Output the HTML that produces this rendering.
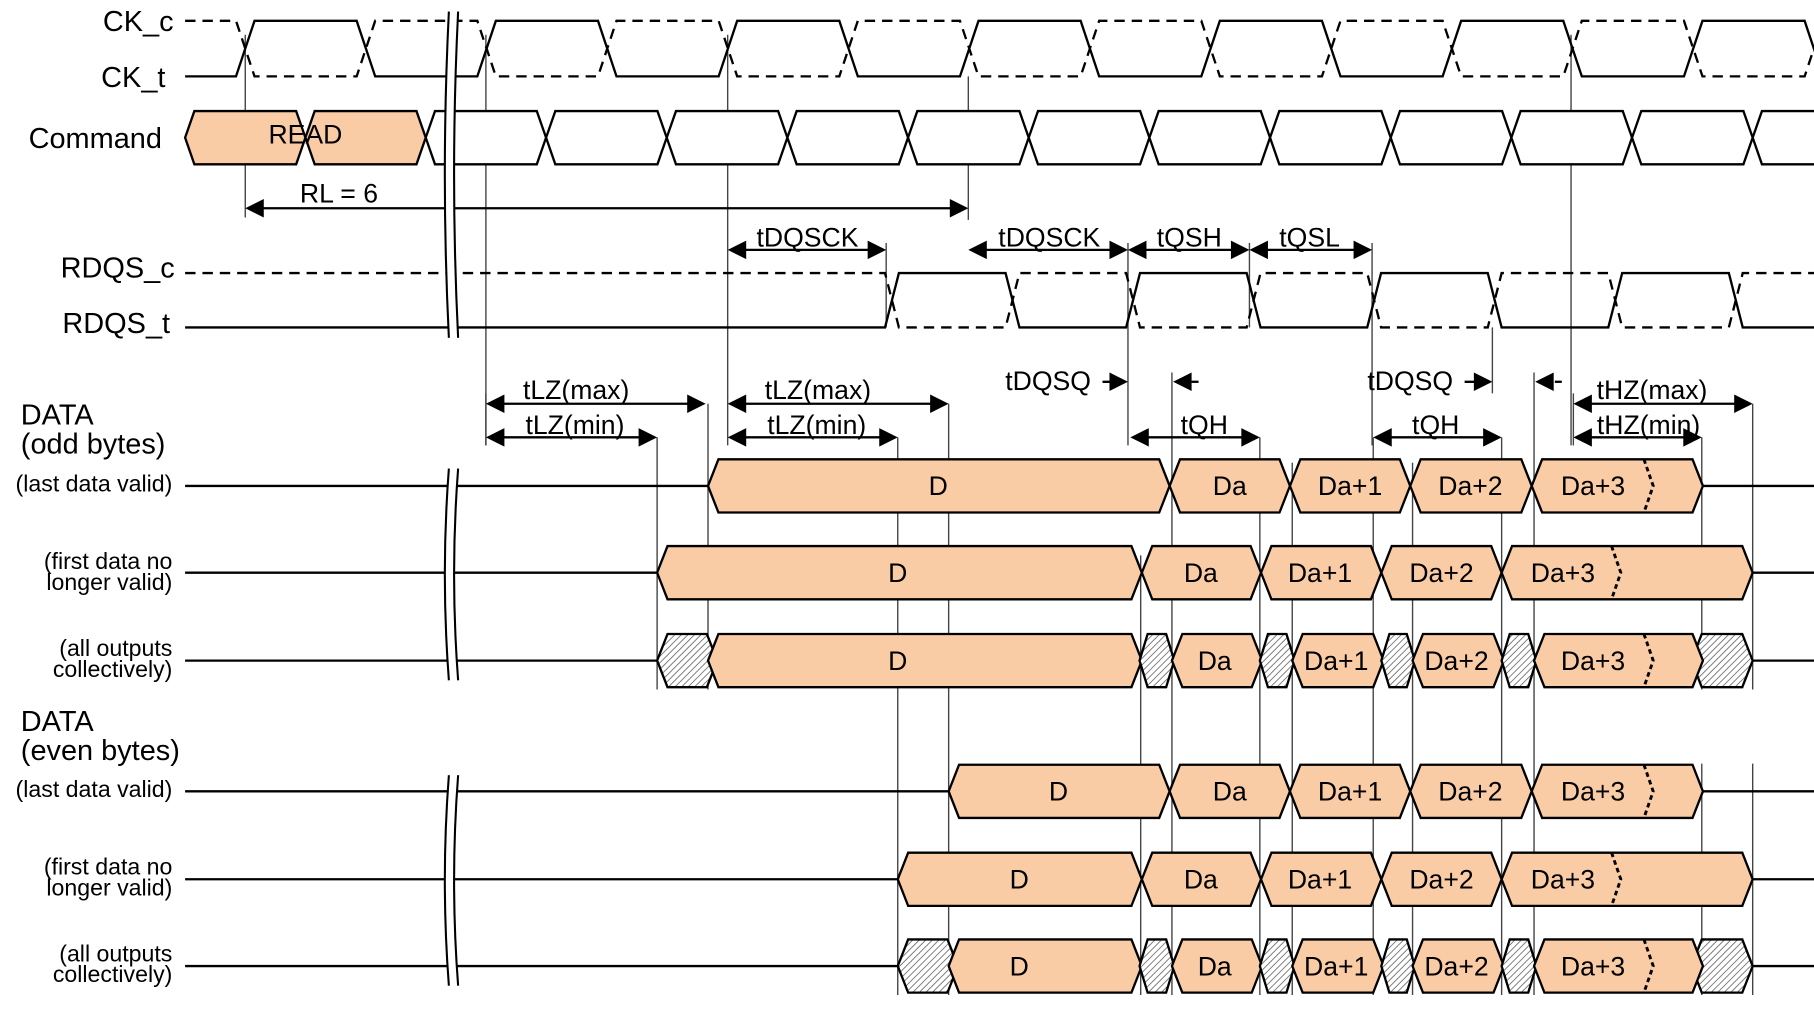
<!DOCTYPE html>
<html><head><meta charset="utf-8">
<style>
html,body{margin:0;padding:0;background:#fff;overflow:hidden}
svg{display:block}
text{font-family:"Liberation Sans",Arial,sans-serif;fill:#000}
</style></head>
<body>
<svg id="s" width="1814" height="1010" viewBox="0 0 1568 873" preserveAspectRatio="none" xmlns="http://www.w3.org/2000/svg">
<defs>
<pattern id="h" width="4" height="4" patternUnits="userSpaceOnUse" patternTransform="rotate(45)">
<rect width="4" height="4" fill="#fff"/><line x1="0" y1="0" x2="0" y2="4" stroke="#777" stroke-width="1.6"/>
</pattern>
</defs>
<g id="g"></g>
<g font-size="25">
<text x="150" y="27" text-anchor="end">CK_c</text>
<text x="143" y="75" text-anchor="end">CK_t</text>
<text x="140" y="128" text-anchor="end">Command</text>
<text x="151" y="240" text-anchor="end">RDQS_c</text>
<text x="147" y="288" text-anchor="end">RDQS_t</text>
<text x="18" y="367">DATA</text>
<text x="18" y="392">(odd bytes)</text>
<text x="18" y="632">DATA</text>
<text x="18" y="657">(even bytes)</text>
</g>
<g font-size="20" text-anchor="end">
<text x="149" y="425">(last data valid)</text>
<text x="149" y="492">(first data no</text>
<text x="149" y="510">longer valid)</text>
<text x="149" y="567">(all outputs</text>
<text x="149" y="585">collectively)</text>
<text x="149" y="689">(last data valid)</text>
<text x="149" y="756">(first data no</text>
<text x="149" y="774">longer valid)</text>
<text x="149" y="831">(all outputs</text>
<text x="149" y="849">collectively)</text>
</g>
<g font-size="23" text-anchor="middle" id="tl">
<text x="264" y="124">READ</text>
<text x="293" y="175">RL = 6</text>
<text x="698" y="213">tDQSCK</text>
<text x="907" y="213">tDQSCK</text>
<text x="1028" y="213">tQSH</text>
<text x="1132" y="213">tQSL</text>
<text x="906" y="337">tDQSQ</text>
<text x="1219" y="337">tDQSQ</text>
<text x="1041" y="375">tQH</text>
<text x="1241" y="375">tQH</text>
<text x="498" y="345">tLZ(max)</text>
<text x="497" y="375">tLZ(min)</text>
<text x="707" y="345">tLZ(max)</text>
<text x="706" y="375">tLZ(min)</text>
<text x="1428" y="345">tHZ(max)</text>
<text x="1425" y="375">tHZ(min)</text>
</g>
<g font-size="23" text-anchor="middle" id="dt">
<text x="811" y="428">D</text><text x="1063" y="428">Da</text><text x="1167" y="428">Da+1</text><text x="1271" y="428">Da+2</text><text x="1377" y="428">Da+3</text>
<text x="776" y="503">D</text><text x="1038" y="503">Da</text><text x="1141" y="503">Da+1</text><text x="1246" y="503">Da+2</text><text x="1351" y="503">Da+3</text>
<text x="776" y="579">D</text><text x="1050" y="579">Da</text><text x="1155" y="579">Da+1</text><text x="1259" y="579">Da+2</text><text x="1377" y="579">Da+3</text>
<text x="915" y="692">D</text><text x="1063" y="692">Da</text><text x="1167" y="692">Da+1</text><text x="1271" y="692">Da+2</text><text x="1377" y="692">Da+3</text>
<text x="881" y="768">D</text><text x="1038" y="768">Da</text><text x="1141" y="768">Da+1</text><text x="1246" y="768">Da+2</text><text x="1351" y="768">Da+3</text>
<text x="881" y="843">D</text><text x="1050" y="843">Da</text><text x="1155" y="843">Da+1</text><text x="1259" y="843">Da+2</text><text x="1377" y="843">Da+3</text>
</g>
</svg>
<script>
var g=document.getElementById('g'),NS='http://www.w3.org/2000/svg';
function el(t,a){var e=document.createElementNS(NS,t);for(var k in a)e.setAttribute(k,a[k]);g.appendChild(e);return e;}
function pl(pts,a){a=a||{};a.points=pts.map(function(p){return p.join(',')}).join(' ');if(!a.fill)a.fill='none';if(!a.stroke)a.stroke='#000';if(!a['stroke-width'])a['stroke-width']=2;return el('polyline',a);}
function ln(x1,y1,x2,y2,w,c){return el('line',{x1:x1,y1:y1,x2:x2,y2:y2,stroke:c||'#000','stroke-width':w||2});}
var OR='#f9cca6';
function bub(x1,x2,y,fill,s){s=s||9;var h=23;return el('polygon',{points:[[x1,y],[x1+s,y-h],[x2-s,y-h],[x2,y],[x2-s,y+h],[x1+s,y+h]].map(function(p){return p.join(',')}).join(' '),fill:fill,stroke:'#000','stroke-width':2});}
var V=[[212,30,188],[420,30,385],[629,30,385],[837,66,190],[1358,30,385],[766,210,283],[975,210,385],[1080,210,283],[1186,210,385],[1290,283,340],
[420,340,385],[568,378,596],[612,349,596],[776,378,860],[820,349,860],[986,480,860],[1013,322,860],[1089,378,860],[1117,400,860],[1187,378,860],[1221,400,860],[1298,378,860],[1326,322,860],[1360,340,385],[1471,378,596],[1515,349,596],[1471,660,860],[1515,660,860]];
V.forEach(function(v){ln(v[0],v[1],v[0],v[2],1.2,'#444');});
var cr=[];for(var c=212;c<1600;c+=104.3)cr.push(c);
function wave(cs,yH,yL,startHigh,x0,x1,dash,hw){var pts=[[x0,startHigh?yH:yL]],hi=startHigh;cs.forEach(function(c){pts.push([c-hw,hi?yH:yL]);hi=!hi;pts.push([c+hw,hi?yH:yL]);});pts.push([x1,hi?yH:yL]);var a={};if(dash)a['stroke-dasharray']='9,6';return pl(pts,a);}
wave(cr,18,66,false,160,1568,false,8);
wave(cr,18,66,true,160,1568,true,8);
var cp=[160,264,368];for(var c=472;c<1600;c+=104.3)cp.push(c);cp.push(1620);
for(var i=0;i<cp.length-1;i++)bub(cp[i],cp[i+1],119,i<2?OR:'#fff',8);
var rc=[];for(var c=771;c<1600;c+=104.2)rc.push(c);
wave(rc,236,283,false,160,1568,false,6);
wave(rc,236,283,true,160,1568,true,6);
function head(x,y,dir){var L=16,W=8;el('polygon',{points:[[x,y],[x-dir*L,y-W],[x-dir*L,y+W]].map(function(p){return p.join(',')}).join(' '),fill:'#000'});}
function darr(x1,x2,y){ln(x1+4,y,x2-4,y,2);head(x1,y,-1);head(x2,y,1);}
darr(212,837,180);
darr(629,766,216);darr(837,975,216);darr(975,1080,216);darr(1080,1186,216);
darr(420,610,349);darr(420,568,378);darr(629,820,349);darr(629,776,378);
darr(1360,1515,349);darr(1360,1471,378);darr(977,1089,378);darr(1187,1298,378);
ln(953,330,970,330,2);head(975,330,1);ln(1030,330,1036,330,2);head(1014,330,-1);
ln(1266,330,1284,330,2);head(1290,330,1);ln(1344,330,1350,330,2);head(1327,330,-1);
function dash(x,y){pl([[x-4,y-23],[x+4,y],[x-4,y+23]],{'stroke-dasharray':'4,3','stroke-width':2.5});}
function rowA(y,ds){ln(160,y,ds,y);bub(ds,1011,y,OR,9);var c=[1011,1115,1219,1324];for(var i=0;i<3;i++)bub(c[i],c[i+1],y,OR,9);bub(1324,1472,y,OR,9);ln(1472,y,1568,y);dash(1425,y);}
function rowB(y,ds){ln(160,y,ds,y);bub(ds,987,y,OR,9);var c=[987,1090,1194,1298];for(var i=0;i<3;i++)bub(c[i],c[i+1],y,OR,9);bub(1298,1515,y,OR,9);ln(1515,y,1568,y);dash(1397,y);}
function rowC(y,hs,ds){ln(160,y,hs,y);bub(hs,ds+8,y,'url(#h)',9);bub(ds,987,y,OR,9);
bub(985,1015,y,'url(#h)',7);bub(1013,1091,y,OR,9);bub(1089,1119,y,'url(#h)',7);bub(1117,1196,y,OR,9);bub(1194,1223,y,'url(#h)',7);bub(1221,1300,y,OR,9);bub(1298,1328,y,'url(#h)',7);
bub(1462,1515,y,'url(#h)',9);bub(1326,1472,y,OR,9);ln(1515,y,1568,y);dash(1425,y);}
rowA(420,612);rowB(495,568);rowC(571,568,612);
rowA(684,820);rowB(760,776);rowC(835,776,820);
function brk(y1,y2,x){var m=(y1+y2)/2;el('path',{d:'M'+(x-2)+','+y1+' Q'+(x-9)+','+m+' '+(x-2)+','+y2+' L'+(x+6)+','+y2+' Q'+(x-1)+','+m+' '+(x+6)+','+y1+' Z',fill:'#fff',stroke:'none'});
el('path',{d:'M'+(x-2)+','+y1+' Q'+(x-9)+','+m+' '+(x-2)+','+y2,fill:'none',stroke:'#000','stroke-width':1.8});
el('path',{d:'M'+(x+6)+','+y1+' Q'+(x-1)+','+m+' '+(x+6)+','+y2,fill:'none',stroke:'#000','stroke-width':1.8});}
brk(10,292,390);brk(405,588,390);brk(670,852,390);
var s=document.getElementById('s');s.appendChild(document.getElementById('tl'));s.appendChild(document.getElementById('dt'));
</script>
</body></html>
